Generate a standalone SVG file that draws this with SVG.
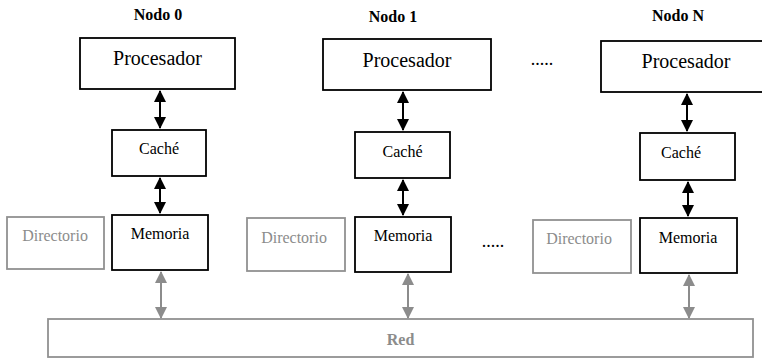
<svg xmlns="http://www.w3.org/2000/svg" width="762" height="359" viewBox="0 0 762 359" font-family="'Liberation Serif', 'DejaVu Serif', serif">
<style>
.box{fill:#fff;stroke:#000;stroke-width:1.8}
.gbox{fill:#fff;stroke:#919191;stroke-width:1.8}
text{font-family:'Liberation Serif','DejaVu Serif',serif;text-anchor:middle;fill:#000}
.title{font-size:16px;font-weight:bold}
.proc{font-size:20px}
.sm{font-size:16px}
.dots{font-size:18px}
.gt{fill:#8c8c8c}
.ba{stroke:#000;stroke-width:2;fill:none;marker-start:url(#ahb);marker-end:url(#ahb)}
.ga{stroke:#8c8c8c;stroke-width:2;fill:none;marker-start:url(#ahg);marker-end:url(#ahg)}
</style>
<defs>
<marker id="ahb" markerUnits="userSpaceOnUse" markerWidth="12" markerHeight="12" viewBox="0 0 12 12" refX="11" refY="6" orient="auto-start-reverse"><path d="M0,0 L12,6 L0,12 Z" fill="#000"/></marker>
<marker id="ahg" markerUnits="userSpaceOnUse" markerWidth="12" markerHeight="12" viewBox="0 0 12 12" refX="11" refY="6" orient="auto-start-reverse"><path d="M0,0 L12,6 L0,12 Z" fill="#8c8c8c"/></marker>
</defs>
<rect width="762" height="359" fill="#fff"/>

<g id="connectors">
<line class="ba" x1="160" y1="91" x2="160" y2="128"/>
<line class="ba" x1="160" y1="178" x2="160" y2="213"/>
<line class="ga" x1="161" y1="272" x2="161" y2="318"/>
<line class="ba" x1="403" y1="92" x2="403" y2="130"/>
<line class="ba" x1="403" y1="180" x2="403" y2="215"/>
<line class="ga" x1="408" y1="274" x2="408" y2="318"/>
<line class="ba" x1="687" y1="94" x2="687" y2="131"/>
<line class="ba" x1="688" y1="182" x2="688" y2="216"/>
<line class="ga" x1="689" y1="275" x2="689" y2="318"/>
</g>

<g id="red">
<rect class="gbox" x="48" y="319" width="705" height="38"/>
<text class="title gt" x="400.5" y="345">Red</text>
</g>

<g id="nodo0">
<text class="title" x="158" y="20">Nodo 0</text>
<g id="proc0"><rect class="box" x="80" y="38" width="155" height="51"/><text class="proc" x="157.5" y="65">Procesador</text></g>
<g id="cache0"><rect class="box" x="112" y="130" width="94" height="46"/><text class="sm" x="159" y="154">Caché</text></g>
<g id="mem0"><rect class="box" x="112" y="215" width="96" height="55"/><text class="sm" x="160" y="239">Memoria</text></g>
<g id="dir0"><rect class="gbox" x="7" y="217" width="97" height="52"/><text class="sm gt" x="55" y="241">Directorio</text></g>
</g>

<g id="nodo1">
<text class="title" x="393" y="22">Nodo 1</text>
<g id="proc1"><rect class="box" x="323" y="39" width="168" height="51"/><text class="proc" x="407" y="67">Procesador</text></g>
<g id="cache1"><rect class="box" x="355" y="132" width="95" height="46"/><text class="sm" x="402.5" y="157">Caché</text></g>
<g id="mem1"><rect class="box" x="355" y="217" width="96" height="55"/><text class="sm" x="403" y="241">Memoria</text></g>
<g id="dir1"><rect class="gbox" x="247" y="218" width="98" height="53"/><text class="sm gt" x="294" y="243">Directorio</text></g>
</g>

<g id="dots">
<text class="dots" x="542" y="65">.....</text>
<text class="dots" x="493" y="247">.....</text>
</g>

<g id="nodoN">
<text class="title" x="678" y="21">Nodo N</text>
<g id="procN"><rect class="box" x="601" y="41" width="165" height="51"/><text class="proc" x="686" y="68">Procesador</text></g>
<g id="cacheN"><rect class="box" x="640" y="133" width="95" height="47"/><text class="sm" x="681" y="158">Caché</text></g>
<g id="memN"><rect class="box" x="640" y="218" width="97" height="55"/><text class="sm" x="688" y="243">Memoria</text></g>
<g id="dirN"><rect class="gbox" x="533" y="220" width="98" height="53"/><text class="sm gt" x="579" y="244">Directorio</text></g>
</g>
</svg>
